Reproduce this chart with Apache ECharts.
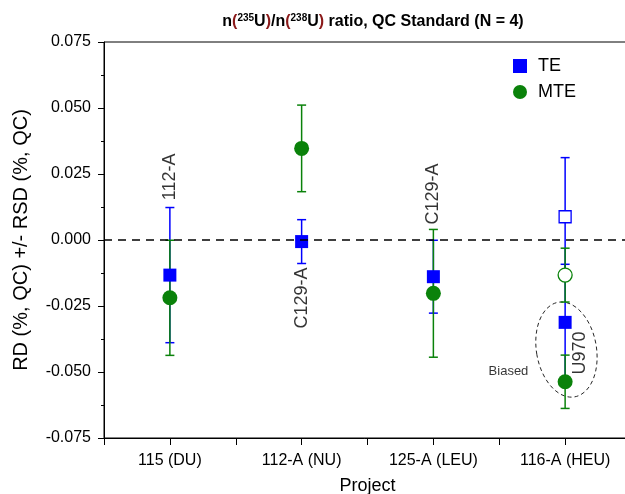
<!DOCTYPE html>
<html>
<head>
<meta charset="utf-8">
<script src="https://cdn.jsdelivr.net/npm/echarts@6/dist/echarts.min.js"></script>
<style>
  html, body { margin: 0; padding: 0; background: #fff; }
  #chart { width: 625px; height: 494px; }
</style>
</head>
<body>
<div id="chart"></div>
<script>
  // categories on the x axis
  var categories = ['115 (DU)', '112-A (NU)', '125-A (LEU)', '116-A (HEU)'];

  // TE / MTE relative differences and RSD (%)
  var teValues = [-0.0133, -0.0006, -0.0139, 0.0088];
  var teRsd = [0.0256, 0.0083, 0.0138, 0.0224];
  var mteValues = [-0.0219, 0.0347, -0.0202, -0.0133];
  var mteRsd = [0.0218, 0.0164, 0.0242, 0.0102];
  // 116-A unbiased points are drawn hollow
  var hollow = [false, false, false, true];

  // biased (U970) results for 116-A
  var biasedIndex = [3];
  var biasedTe = [-0.0312];
  var biasedTeRsd = [0.0220];
  var biasedMte = [-0.0537];
  var biasedMteRsd = [0.0101];

  var yTicks = [-0.075, -0.050, -0.025, 0.000, 0.025, 0.050, 0.075];

  var BLUE = '#0000ff';
  var GREEN = '#0a820a';
  var FONT = 'Liberation Sans, Arial, sans-serif';

  var chart = echarts.init(document.getElementById('chart'));

  function errData(idx, vals, rsd) {
    return idx.map(function (x, i) { return [x, vals[i] - rsd[i], vals[i] + rsd[i]]; });
  }

  var idxAll = categories.map(function (c, i) { return i; });
  var teErr = errData(idxAll, teValues, teRsd).concat(errData(biasedIndex, biasedTe, biasedTeRsd));
  var mteErr = errData(idxAll, mteValues, mteRsd).concat(errData(biasedIndex, biasedMte, biasedMteRsd));

  function errorBar(color) {
    return function (params, api) {
      var x = api.value(0);
      var lo = api.coord([x, api.value(1)]);
      var hi = api.coord([x, api.value(2)]);
      var w = 4.5;
      var style = { stroke: color, lineWidth: 1.5 };
      return {
        type: 'group',
        children: [
          { type: 'line', shape: { x1: lo[0], y1: lo[1], x2: hi[0], y2: hi[1] }, style: style },
          { type: 'line', shape: { x1: lo[0] - w, y1: lo[1], x2: lo[0] + w, y2: lo[1] }, style: style },
          { type: 'line', shape: { x1: hi[0] - w, y1: hi[1], x2: hi[0] + w, y2: hi[1] }, style: style }
        ]
      };
    };
  }

  function pts(idx, vals, wantHollow) {
    var out = [];
    idx.forEach(function (x, i) {
      if (wantHollow === null || hollow[x] === wantHollow) out.push([x, vals[i]]);
    });
    return out;
  }

  var teFilled = pts(idxAll, teValues, false).concat(pts(biasedIndex, biasedTe, null));
  var mteFilled = pts(idxAll, mteValues, false).concat(pts(biasedIndex, biasedMte, null));
  var teHollow = pts(idxAll, teValues, true);
  var mteHollow = pts(idxAll, mteValues, true);

  // rotated project notes
  var notes = [
    { value: [0, 0.0239], text: '112-A', rotate: 90 },
    { value: [1, -0.0220], text: 'C129-A', rotate: 90 },
    { value: [2, 0.0174], text: 'C129-A', rotate: 90 },
    { value: [3.11, -0.0428], text: 'U970', rotate: 90 },
    { value: [2.57, -0.0496], text: 'Biased', rotate: 0, size: 13 }
  ];

  var option = {
    animation: false,
    textStyle: { fontFamily: FONT },
    title: {
      text: '{b|n}{r|(}{s|235}{b|U}{r|)}{b|/n}{r|(}{s|238}{b|U}{r|)}{b| ratio, QC Standard (N = 4)}',
      left: 368,
      top: 8,
      textAlign: 'center',
      textStyle: {
        rich: {
          b: { fontSize: 16, fontWeight: 'bold', color: '#000', fontFamily: FONT },
          r: { fontSize: 16, fontWeight: 'bold', color: '#8b1a1a', fontFamily: FONT },
          s: { fontSize: 10, fontWeight: 'bold', color: '#000', fontFamily: FONT, verticalAlign: 'top', padding: [0, 0, 7, 0] }
        }
      }
    },
    legend: {
      orient: 'vertical',
      left: 508,
      top: 52,
      itemWidth: 14,
      itemHeight: 14,
      itemGap: 8,
      textStyle: { fontSize: 18, color: '#000', fontFamily: FONT, padding: [0, 0, 0, 6] },
      data: [
        { name: 'TE', icon: 'rect' },
        { name: 'MTE', icon: 'circle' }
      ]
    },
    grid: {
      left: 104,
      top: 42,
      width: 527,
      height: 396,
      outerBoundsMode: 'none',
      containLabel: false,
      show: true,
      borderColor: '#000',
      borderWidth: 1
    },
    xAxis: {
      type: 'value',
      min: -0.5,
      max: 3.5,
      interval: 0.5,
      name: 'Project',
      nameLocation: 'middle',
      nameGap: 39,
      nameTextStyle: { fontSize: 18, color: '#000' },
      axisLine: { onZero: false, lineStyle: { color: '#000', width: 1 } },
      axisTick: { length: 7, lineStyle: { color: '#000' } },
      splitLine: { show: false },
      axisLabel: {
        fontSize: 16,
        color: '#000',
        margin: 15,
        formatter: function (v) {
          return Number.isInteger(v) ? categories[v] : '';
        }
      }
    },
    yAxis: {
      type: 'value',
      min: yTicks[0],
      max: yTicks[yTicks.length - 1],
      interval: 0.025,
      name: 'RD (%, QC) +/- RSD (%, QC)',
      nameLocation: 'middle',
      nameGap: 73,
      nameTextStyle: { fontSize: 20, color: '#000' },
      axisLine: { show: true, onZero: false, lineStyle: { color: '#000', width: 1 } },
      axisTick: { show: true, length: 6, lineStyle: { color: '#000' } },
      minorTick: { show: true, splitNumber: 2, length: 3, lineStyle: { color: '#000' } },
      splitLine: { show: false },
      axisLabel: {
        fontSize: 16,
        color: '#000',
        margin: 13,
        formatter: function (v) { return v.toFixed(3); }
      }
    },
    series: [
      {
        name: 'TE err', type: 'custom', renderItem: errorBar(BLUE),
        data: teErr, z: 2,
        markLine: {
          silent: true, symbol: 'none', label: { show: false },
          lineStyle: { color: '#000', type: [8, 6], width: 1.5 },
          data: [{ yAxis: 0 }]
        }
      },
      { name: 'MTE err', type: 'custom', renderItem: errorBar(GREEN), data: mteErr, z: 3 },
      {
        name: 'TE', type: 'scatter', symbol: 'rect', symbolSize: 13, z: 4,
        itemStyle: { color: BLUE, opacity: 1 }, data: teFilled
      },
      {
        name: 'TE open', type: 'scatter', symbol: 'rect', symbolSize: 12, z: 4,
        itemStyle: { color: '#fff', borderColor: BLUE, borderWidth: 1.3, opacity: 1 }, data: teHollow
      },
      {
        name: 'MTE', type: 'scatter', symbol: 'circle', symbolSize: 15, z: 5,
        itemStyle: { color: GREEN, opacity: 1 }, data: mteFilled
      },
      {
        name: 'MTE open', type: 'scatter', symbol: 'circle', symbolSize: 14, z: 5,
        itemStyle: { color: '#fff', borderColor: GREEN, borderWidth: 1.3, opacity: 1 }, data: mteHollow
      },
      {
        name: 'notes', type: 'scatter', symbolSize: 0, z: 6, silent: true,
        data: notes.map(function (n) {
          return {
            value: n.value,
            label: {
              show: true, position: 'inside', formatter: n.text, rotate: n.rotate,
              fontSize: n.size || 18, color: '#000', fontFamily: FONT
            }
          };
        })
      }
    ]
  };

  chart.setOption(option);

  // dashed ring around the biased U970 points
  var ringCenter = chart.convertToPixel({ gridIndex: 0 }, [3.01, -0.0415]);
  chart.setOption({
    graphic: [{
      type: 'ellipse',
      shape: { cx: 0, cy: 0, rx: 30, ry: 48 },
      x: ringCenter[0],
      y: ringCenter[1],
      rotation: 0.17,
      silent: true,
      z: 1,
      style: { fill: 'none', stroke: '#000', lineWidth: 0.8, lineDash: [4, 3] }
    }]
  });
</script>
</body>
</html>
